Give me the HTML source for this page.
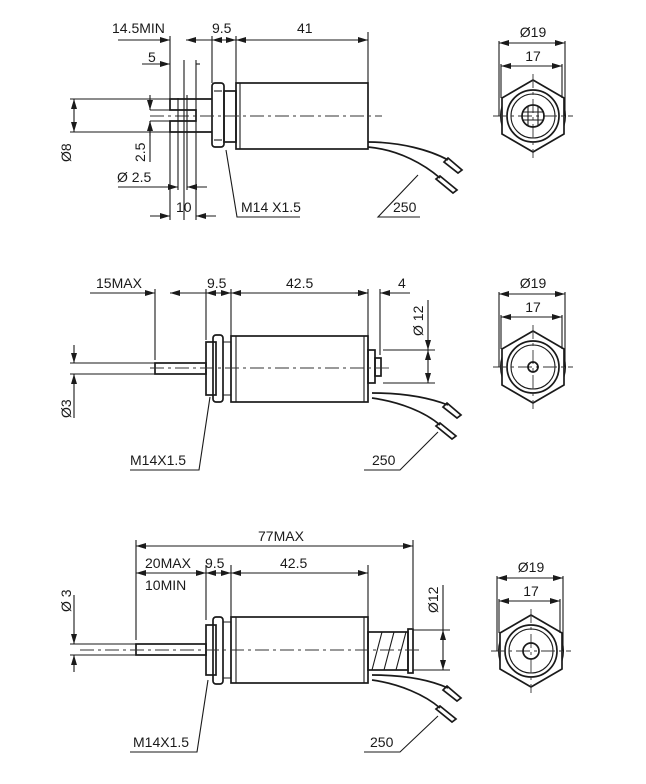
<!DOCTYPE html>
<html><head><meta charset="utf-8"><style>
body{margin:0;background:#fff}
svg{display:block}
text{font-family:"Liberation Sans",sans-serif;font-size:14px;fill:#1a1a1a}
.l{stroke:#1a1a1a;stroke-width:1.1;fill:none}
.t{stroke:#1a1a1a;stroke-width:1.7;fill:none}
.c{stroke:#333;stroke-width:0.9;fill:none;stroke-dasharray:14 4 3 4}
</style></head><body>
<svg width="646" height="784" viewBox="0 0 646 784" xmlns="http://www.w3.org/2000/svg">
<defs>
<marker id="a" viewBox="0 0 10 6" refX="10" refY="3" markerWidth="10" markerHeight="6" orient="auto-start-reverse" markerUnits="userSpaceOnUse"><path d="M0,0 L10,3 L0,6z" fill="#1a1a1a"/></marker>
<g id="hex">
<path class="t" d="M0,-36 L31,-18 L31,18 L0,36 L-31,18 L-31,-18Z"/>
<path class="l" d="M31,-10 Q34,0 31,10 M-31,-10 Q-34,0 -31,10"/>
<circle class="t" cx="0" cy="0" r="26"/>
<circle class="l" cx="0" cy="0" r="22"/>
<line class="c" x1="-40" y1="0" x2="40" y2="0"/>
<line class="c" x1="0" y1="-42" x2="0" y2="42"/>
<line class="l" x1="-34" y1="-75" x2="-34" y2="0"/>
<line class="l" x1="32" y1="-75" x2="32" y2="0"/>
<line class="l" x1="-32" y1="-52" x2="-32" y2="-18"/>
<line class="l" x1="29" y1="-52" x2="29" y2="-18"/>
<line class="l" x1="-34" y1="-73" x2="32" y2="-73" marker-start="url(#a)" marker-end="url(#a)"/>
<line class="l" x1="-32" y1="-50" x2="29" y2="-50" marker-start="url(#a)" marker-end="url(#a)"/>
<text x="0" y="-79" text-anchor="middle">Ø19</text>
<text x="0" y="-55" text-anchor="middle">17</text>
</g>
</defs>

<!-- ===== TOP ===== -->
<use href="#hex" x="533" y="116"/>
<circle class="t" cx="533" cy="116" r="11"/>
<path class="l" d="M523,112 H543 M523,120 H543 M528,106 V126 M538,106 V126"/>

<rect class="t" x="236" y="83" width="132" height="66"/>
<line class="l" x1="240" y1="83" x2="240" y2="149"/>
<rect class="t" x="224" y="91" width="12" height="51"/>
<rect class="t" x="212" y="83" width="12" height="64" rx="3"/>
<line class="l" x1="214" y1="91" x2="222" y2="91"/><line class="l" x1="214" y1="140" x2="222" y2="140"/>
<path class="t" d="M212,99 H170 V110 H196 V121 H170 V132 H212"/>
<line class="c" x1="150" y1="116" x2="382" y2="116"/>
<path class="l" d="M184,60 V220 M178,98 V190 M187,95 V190"/>
<path class="t" d="M368,142 C400,142 430,150 448,160 M368,147 C400,150 425,165 440,178"/>
<path class="t" d="M448,158 L462,170 L458,173 L444,162Z M440,176 L457,190 L453,193 L436,179Z"/>
<path class="l" d="M170,36 V99 M212,36 V83 M236,36 V83 M368,32 V83 M196,60 V190 M170,132 V220 M196,132 V220"/>
<line class="l" x1="118" y1="40" x2="170" y2="40" marker-end="url(#a)"/>
<line class="l" x1="212" y1="40" x2="186" y2="40" marker-end="url(#a)"/>
<line class="l" x1="212" y1="40" x2="236" y2="40" marker-start="url(#a)" marker-end="url(#a)"/>
<line class="l" x1="236" y1="40" x2="368" y2="40" marker-start="url(#a)" marker-end="url(#a)"/>
<text x="112" y="33">14.5MIN</text><text x="212" y="33">9.5</text><text x="297" y="33">41</text>
<line class="l" x1="142" y1="64" x2="170" y2="64" marker-end="url(#a)"/>
<line class="l" x1="196" y1="64" x2="200" y2="64"/>
<text x="148" y="62">5</text>
<path class="l" d="M70,99 H170 M70,132 H170 M150,110 H170 M150,121 H170"/>
<line class="l" x1="74" y1="99" x2="74" y2="132" marker-start="url(#a)" marker-end="url(#a)"/>
<line class="l" x1="150" y1="95" x2="150" y2="110" marker-end="url(#a)"/>
<line class="l" x1="150" y1="136" x2="150" y2="121" marker-end="url(#a)"/>
<line class="l" x1="150" y1="121" x2="150" y2="162"/>
<text transform="translate(71,162) rotate(-90)">Ø8</text>
<text transform="translate(145,162) rotate(-90)">2.5</text>
<line class="l" x1="118" y1="187" x2="178" y2="187" marker-end="url(#a)"/>
<line class="l" x1="207" y1="187" x2="187" y2="187" marker-end="url(#a)"/>
<text x="117" y="182">Ø 2.5</text>
<line class="l" x1="150" y1="216" x2="170" y2="216" marker-end="url(#a)"/>
<line class="l" x1="216" y1="216" x2="196" y2="216" marker-end="url(#a)"/>
<text x="176" y="212">10</text>
<path class="l" d="M226,150 L237,217 H300"/>
<text x="241" y="212">M14 X1.5</text>
<path class="l" d="M418,175 L378,217 H420"/>
<text x="393" y="212">250</text>

<!-- ===== MIDDLE ===== -->
<use href="#hex" x="533" y="367"/>
<circle class="t" cx="533" cy="367" r="5"/>

<rect class="t" x="231" y="336" width="137" height="66"/>
<path class="l" d="M236,336 V402 M364,336 V402"/>
<rect class="t" x="206" y="342" width="10" height="53"/>
<rect class="t" x="213" y="335" width="10" height="67" rx="3"/>
<path class="l" d="M223,342 H231 V395 H223"/>
<rect class="t" x="155" y="363" width="51" height="11"/>
<rect class="t" x="368" y="350" width="7" height="33"/>
<rect class="t" x="375" y="358" width="6" height="18"/>
<line class="c" x1="150" y1="368" x2="390" y2="368"/>
<path class="t" d="M372,393 C405,393 430,398 448,405 M372,398 C400,402 425,412 440,425"/>
<path class="t" d="M447,403 L461,415 L457,418 L443,407Z M440,423 L456,436 L452,439 L436,426Z"/>
<path class="l" d="M155,289 V360 M206,289 V340 M231,289 V336 M368,289 V350 M380,289 V355"/>
<line class="l" x1="90" y1="293" x2="155" y2="293" marker-end="url(#a)"/>
<line class="l" x1="206" y1="293" x2="170" y2="293" marker-end="url(#a)"/>
<line class="l" x1="206" y1="293" x2="231" y2="293" marker-start="url(#a)" marker-end="url(#a)"/>
<line class="l" x1="231" y1="293" x2="368" y2="293" marker-start="url(#a)" marker-end="url(#a)"/>
<line class="l" x1="355" y1="293" x2="368" y2="293" marker-end="url(#a)"/>
<line class="l" x1="410" y1="293" x2="380" y2="293" marker-end="url(#a)"/>
<text x="96" y="288">15MAX</text><text x="207" y="288">9.5</text><text x="286" y="288">42.5</text><text x="398" y="288">4</text>
<path class="l" d="M383,350 H435 M383,383 H435"/>
<line class="l" x1="428" y1="300" x2="428" y2="350" marker-end="url(#a)"/>
<line class="l" x1="428" y1="350" x2="428" y2="383" marker-start="url(#a)" marker-end="url(#a)"/>
<text transform="translate(423,336) rotate(-90)">Ø 12</text>
<path class="l" d="M70,363 H155 M70,374 H155"/>
<line class="l" x1="74" y1="345" x2="74" y2="363" marker-end="url(#a)"/>
<line class="l" x1="74" y1="418" x2="74" y2="374" marker-end="url(#a)"/>
<text transform="translate(71,418) rotate(-90)">Ø3</text>
<path class="l" d="M210,397 L199,470 H130"/>
<text x="130" y="465">M14X1.5</text>
<path class="l" d="M438,432 L400,470 H364"/>
<text x="372" y="465">250</text>

<!-- ===== BOTTOM ===== -->
<use href="#hex" x="531" y="651"/>
<circle class="t" cx="531" cy="651" r="8"/>

<rect class="t" x="231" y="617" width="137" height="66"/>
<path class="l" d="M236,617 V683 M364,617 V683"/>
<rect class="t" x="206" y="625" width="10" height="50"/>
<rect class="t" x="213" y="617" width="10" height="67" rx="3"/>
<path class="l" d="M223,622 H231 V678 H223"/>
<rect class="t" x="136" y="644" width="70" height="11"/>
<rect class="t" x="368" y="632" width="40" height="38"/>
<path class="l" d="M372,670 L382,632 M384,670 L394,632 M396,670 L406,632"/>
<rect class="t" x="408" y="629" width="5" height="44"/>
<line class="c" x1="80" y1="650" x2="420" y2="650"/>
<path class="t" d="M372,675 C405,675 430,680 448,688 M372,680 C400,684 425,695 440,708"/>
<path class="t" d="M447,686 L461,698 L457,701 L443,690Z M440,706 L456,719 L452,722 L436,709Z"/>
<path class="l" d="M136,540 V640 M206,565 V620 M231,565 V617 M368,565 V617 M413,540 V628"/>
<line class="l" x1="136" y1="546" x2="413" y2="546" marker-start="url(#a)" marker-end="url(#a)"/>
<text x="258" y="541">77MAX</text>
<line class="l" x1="136" y1="573" x2="206" y2="573" marker-start="url(#a)" marker-end="url(#a)"/>
<line class="l" x1="206" y1="573" x2="231" y2="573" marker-start="url(#a)" marker-end="url(#a)"/>
<line class="l" x1="231" y1="573" x2="368" y2="573" marker-start="url(#a)" marker-end="url(#a)"/>
<text x="145" y="568">20MAX</text><text x="145" y="590">10MIN</text><text x="205" y="568">9.5</text><text x="280" y="568">42.5</text>
<path class="l" d="M413,630 H450 M413,670 H450"/>
<line class="l" x1="443" y1="585" x2="443" y2="630"/>
<line class="l" x1="443" y1="630" x2="443" y2="670" marker-start="url(#a)" marker-end="url(#a)"/>
<text transform="translate(438,613) rotate(-90)">Ø12</text>
<path class="l" d="M70,644 H136 M70,655 H136"/>
<line class="l" x1="74" y1="595" x2="74" y2="644" marker-end="url(#a)"/>
<line class="l" x1="74" y1="672" x2="74" y2="655" marker-end="url(#a)"/>
<text transform="translate(71,612) rotate(-90)">Ø 3</text>
<path class="l" d="M208,680 L197,752 H130"/>
<text x="133" y="747">M14X1.5</text>
<path class="l" d="M438,716 L400,752 H364"/>
<text x="370" y="747">250</text>
</svg>
</body></html>
